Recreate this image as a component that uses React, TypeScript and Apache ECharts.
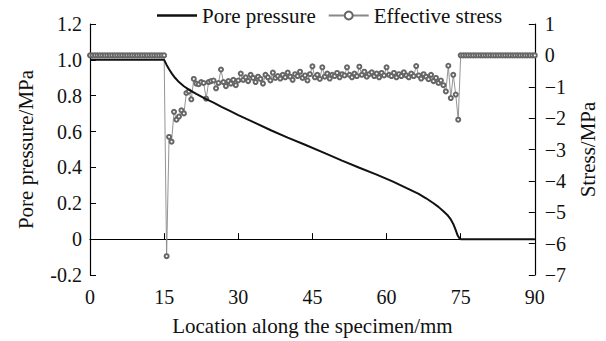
import React, { useEffect, useRef } from "react";
import * as echarts from "echarts";

// x positions (mm) of effective-stress samples
const xStep = 0.5;

// Pore pressure (MPa): [location mm, value]
const porePressure: [number, number][] = [
  [0, 1.0], [15, 1.0], [15.5, 0.972], [16, 0.948], [16.6, 0.922], [17.2, 0.9],
  [18, 0.876], [19, 0.853], [20, 0.834], [21.5, 0.81], [23.2, 0.785], [25, 0.761],
  [26.6, 0.738], [28.3, 0.715], [30, 0.692], [33.3, 0.65], [36.7, 0.606],
  [40, 0.566], [43.4, 0.528], [47.5, 0.48], [51, 0.438], [54.5, 0.398],
  [58, 0.36], [61.2, 0.322], [64.6, 0.278], [66.5, 0.252], [68, 0.228],
  [69.5, 0.2], [70.5, 0.18], [71.5, 0.155], [72.3, 0.135], [73, 0.11],
  [73.5, 0.085], [74, 0.05], [74.4, 0.02], [74.8, 0.003], [75, 0], [90, 0],
];

// Effective stress (MPa), 0 to 15 mm (step 0.5)
const stressLeft = [
  0, 0, 0, 0, 0, 0, 0, 0, 0, 0,
  0, 0, 0, 0, 0, 0, 0, 0, 0, 0,
  0, 0, 0, 0, 0, 0, 0, 0, 0, 0,
  0,
];
// Effective stress (MPa), 15.5 to 75 mm (step 0.5)
const stressMid = [
  -6.4, -2.6, -2.75, -1.8, -2.05, -1.95, -1.75, -1.85, -1.2, -1.15,
  -1.4, -0.75, -0.9, -0.92, -0.85, -0.88, -1.38, -0.85, -0.82, -0.8,
  -1.05, -0.88, -0.45, -0.85, -0.98, -0.82, -0.9, -0.78, -0.95, -0.8,
  -0.58, -0.78, -0.7, -0.82, -0.62, -0.72, -0.85, -0.68, -0.75, -0.9,
  -0.62, -0.7, -0.8, -0.55, -0.72, -0.66, -0.74, -0.62, -0.7, -0.55,
  -0.68, -0.78, -0.6, -0.66, -0.52, -0.72, -0.64, -0.8, -0.6, -0.35,
  -0.7, -0.62, -0.75, -0.38, -0.68, -0.58, -0.74, -0.62, -0.66, -0.56,
  -0.7, -0.6, -0.64, -0.38, -0.62, -0.7, -0.58, -0.66, -0.36, -0.62,
  -0.52, -0.68, -0.6, -0.54, -0.66, -0.58, -0.7, -0.56, -0.64, -0.38,
  -0.62, -0.66, -0.56, -0.7, -0.6, -0.66, -0.54, -0.64, -0.7, -0.58,
  -0.66, -0.34, -0.64, -0.74, -0.6, -0.68, -0.76, -0.62, -0.82, -0.72,
  -0.88, -0.8, -0.95, -1.15, -0.33, -1.36, -0.62, -1.25, -2.05, 0,
];
// Effective stress (MPa), 75.5 to 90 mm (step 0.5)
const stressRight = [
  0, 0, 0, 0, 0, 0, 0, 0, 0, 0,
  0, 0, 0, 0, 0, 0, 0, 0, 0, 0,
  0, 0, 0, 0, 0, 0, 0, 0, 0, 0,
];

const FONT = "Liberation Serif";

export default function App() {
  const ref = useRef<HTMLDivElement>(null);
  useEffect(() => {
    document.body.style.margin = "0";
    if (!ref.current) return;
    const chart = echarts.init(ref.current, null, { renderer: "svg" });
    const stressAll = [...stressLeft, ...stressMid, ...stressRight];
    const stressData = stressAll.map((v, i) => [i * xStep, v]);
    const txt = { fontFamily: FONT, fontSize: 20, color: "#111" };
    chart.setOption({
      animation: false,
      backgroundColor: "#fff",
      textStyle: { fontFamily: FONT },
      legend: {
        top: 0,
        left: 152,
        itemWidth: 40,
        itemHeight: 10,
        itemGap: 12,
        textStyle: { ...txt, fontSize: 21 },
        data: [
          { name: "Pore pressure", icon: "path://M0,0h40v2.4h-40z" },
          { name: "Effective stress" },
        ],
      },
      grid: { left: 90, right: 70, top: 24, bottom: 65 },
      xAxis: {
        type: "value",
        min: 0,
        max: 90,
        interval: 15,
        name: "Location along the specimen/mm",
        nameLocation: "middle",
        nameGap: 40,
        nameTextStyle: { ...txt, fontSize: 21 },
        axisLine: { lineStyle: { color: "#000", width: 1.2 } },
        axisTick: { inside: true, length: 6, lineStyle: { color: "#000" } },
        axisLabel: { ...txt, margin: 12 },
        splitLine: { show: false },
      },
      yAxis: [
        {
          type: "value",
          min: -0.2,
          max: 1.2,
          interval: 0.2,
          name: "Pore pressure/MPa",
          nameLocation: "middle",
          nameGap: 54,
          nameTextStyle: { ...txt, fontSize: 21 },
          axisLine: { show: true, lineStyle: { color: "#000", width: 1.2 } },
          axisTick: { show: true, inside: true, length: 6, lineStyle: { color: "#000" } },
          axisLabel: {
            ...txt,
            margin: 8,
            formatter: (v: number) => (Math.abs(v) < 1e-9 ? "0" : v.toFixed(1)),
          },
          splitLine: { show: false },
        },
        {
          type: "value",
          min: -7,
          max: 1,
          interval: 1,
          position: "right",
          name: "Stress/MPa",
          nameLocation: "middle",
          nameGap: 42,
          nameTextStyle: { ...txt, fontSize: 21 },
          axisLine: { show: true, lineStyle: { color: "#000", width: 1.2 } },
          axisTick: { show: true, inside: true, length: 6, lineStyle: { color: "#000" } },
          axisLabel: {
            ...txt,
            margin: 10,
            formatter: (v: number) => String(Math.round(v)).replace("-", "\u2212"),
          },
          splitLine: { show: false },
        },
      ],
      series: [
        {
          name: "Pore pressure",
          type: "line",
          yAxisIndex: 0,
          data: porePressure,
          showSymbol: false,
          symbol: "none",
          lineStyle: { color: "#111", width: 2 },
          itemStyle: { color: "#111" },
          z: 3,
        },
        {
          name: "Effective stress",
          type: "line",
          yAxisIndex: 1,
          data: stressData,
          symbol: "emptyCircle",
          symbolSize: 4,
          showAllSymbol: true,
          lineStyle: { color: "#888", width: 0.9 },
          itemStyle: { color: "#666", borderColor: "#666", borderWidth: 0.8 },
          z: 2,
        },
      ],
    });
    return () => chart.dispose();
  }, []);
  return <div ref={ref} style={{ width: 606, height: 341 }} />;
}
